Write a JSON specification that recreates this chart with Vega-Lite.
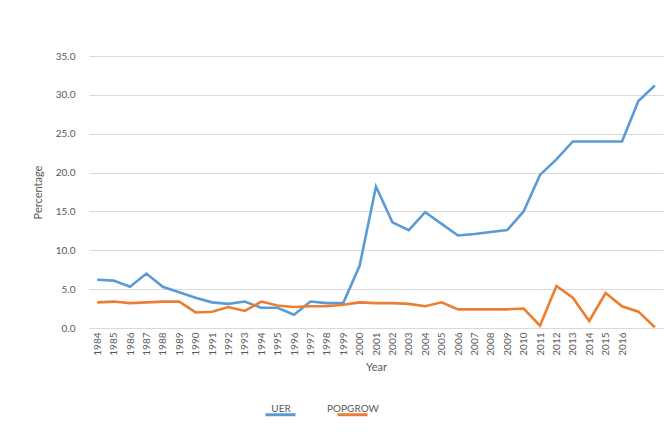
{
  "$schema": "https://vega.github.io/schema/vega-lite/v6.json",
  "autosize": {"type": "none"},
  "padding": {"left": 89, "top": 56, "right": 7, "bottom": 104},
  "width": 574,
  "height": 272,
  "background": "white",
  "config": {
    "view": {"stroke": null},
    "font": "Lato",
    "axis": {"labelColor": "#595959", "titleColor": "#595959", "labelFont": "Lato", "titleFont": "Lato", "titleFontWeight": "normal"}
  },
  "data": {
    "values": [
      {"Year": 1984, "UER": 6.2, "POPGROW": 3.3},
      {"Year": 1985, "UER": 6.1, "POPGROW": 3.4},
      {"Year": 1986, "UER": 5.3, "POPGROW": 3.2},
      {"Year": 1987, "UER": 7.0, "POPGROW": 3.3},
      {"Year": 1988, "UER": 5.3, "POPGROW": 3.4},
      {"Year": 1989, "UER": 4.6, "POPGROW": 3.4},
      {"Year": 1990, "UER": 3.9, "POPGROW": 2.0},
      {"Year": 1991, "UER": 3.3, "POPGROW": 2.1},
      {"Year": 1992, "UER": 3.1, "POPGROW": 2.7},
      {"Year": 1993, "UER": 3.4, "POPGROW": 2.2},
      {"Year": 1994, "UER": 2.6, "POPGROW": 3.4},
      {"Year": 1995, "UER": 2.6, "POPGROW": 2.9},
      {"Year": 1996, "UER": 1.7, "POPGROW": 2.7},
      {"Year": 1997, "UER": 3.4, "POPGROW": 2.8},
      {"Year": 1998, "UER": 3.2, "POPGROW": 2.8},
      {"Year": 1999, "UER": 3.2, "POPGROW": 3.0},
      {"Year": 2000, "UER": 8.0, "POPGROW": 3.3},
      {"Year": 2001, "UER": 18.2, "POPGROW": 3.2},
      {"Year": 2002, "UER": 13.6, "POPGROW": 3.2},
      {"Year": 2003, "UER": 12.6, "POPGROW": 3.1},
      {"Year": 2004, "UER": 14.9, "POPGROW": 2.8},
      {"Year": 2005, "UER": 13.4, "POPGROW": 3.3},
      {"Year": 2006, "UER": 11.9, "POPGROW": 2.4},
      {"Year": 2007, "UER": 12.1, "POPGROW": 2.4},
      {"Year": 2008, "UER": 12.35, "POPGROW": 2.4},
      {"Year": 2009, "UER": 12.6, "POPGROW": 2.4},
      {"Year": 2010, "UER": 15.0, "POPGROW": 2.5},
      {"Year": 2011, "UER": 19.7, "POPGROW": 0.3},
      {"Year": 2012, "UER": 21.7, "POPGROW": 5.4},
      {"Year": 2013, "UER": 24.0, "POPGROW": 3.9},
      {"Year": 2014, "UER": 24.0, "POPGROW": 0.9},
      {"Year": 2015, "UER": 24.0, "POPGROW": 4.5},
      {"Year": 2016, "UER": 24.0, "POPGROW": 2.8},
      {"Year": 2017, "UER": 29.2, "POPGROW": 2.1},
      {"Year": 2018, "UER": 31.2, "POPGROW": 0.1}
    ]
  },
  "transform": [{"fold": ["UER", "POPGROW"], "as": ["Series", "Value"]}],
  "mark": {"type": "line", "strokeWidth": 2.6, "strokeJoin": "miter"},
  "encoding": {
    "x": {
      "field": "Year", "type": "ordinal",
      "scale": {"type": "point", "padding": 0.5},
      "axis": {
        "title": "Year", "titleFontSize": 11, "titlePadding": 6,
        "labelAngle": -90, "labelFontSize": 10, "labelPadding": 4,
        "ticks": false, "domainColor": "#d9d9d9", "grid": false,
        "values": [1984,1985,1986,1987,1988,1989,1990,1991,1992,1993,1994,1995,1996,1997,1998,1999,2000,2001,2002,2003,2004,2005,2006,2007,2008,2009,2010,2011,2012,2013,2014,2015,2016]
      }
    },
    "y": {
      "field": "Value", "type": "quantitative",
      "scale": {"domain": [0, 35]},
      "axis": {
        "title": "Percentage", "titleFontSize": 11, "titlePadding": 12,
        "format": ".1f", "values": [0,5,10,15,20,25,30,35],
        "labelFontSize": 10, "labelPadding": 14,
        "ticks": false, "domain": false, "gridColor": "#d9d9d9"
      }
    },
    "color": {
      "field": "Series", "type": "nominal",
      "scale": {"domain": ["UER", "POPGROW"], "range": ["#5B9BD5", "#ED7D31"]},
      "legend": {
        "title": null, "orient": "none", "direction": "horizontal",
        "legendX": 175, "legendY": 342,
        "symbolType": "stroke", "symbolSize": 900, "symbolStrokeWidth": 3,
        "labelFontSize": 10, "labelColor": "#595959",
        "labelAlign": "center", "labelOffset": -16,
        "labelBaseline": "line-bottom", "labelLineHeight": 54,
        "columnPadding": 25
      }
    }
  }
}
